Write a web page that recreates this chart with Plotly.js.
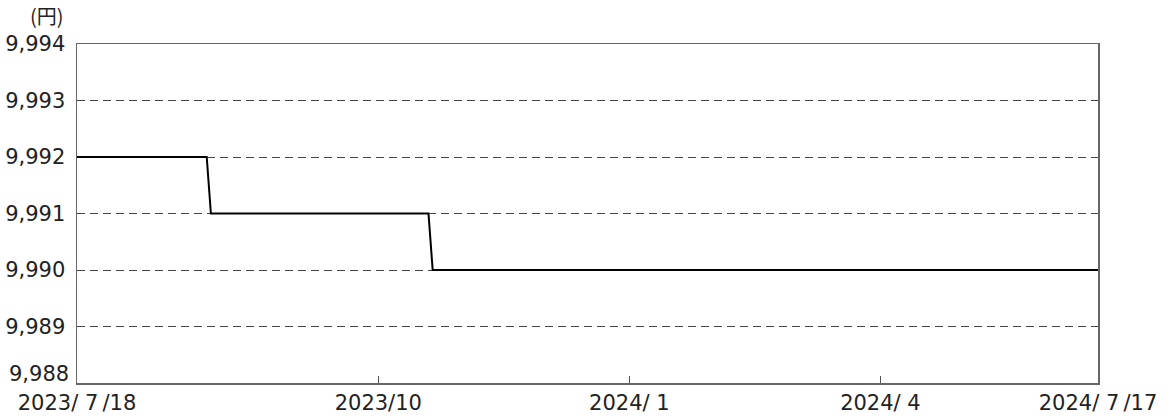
<!DOCTYPE html>
<html><head><meta charset="utf-8">
<script src="https://cdn.plot.ly/plotly-3.0.1.min.js"></script>
<style>html,body{margin:0;padding:0;background:#fff}</style>
</head><body><div id="chart" style="width:1171px;height:416px"></div>
<script>
// Trading-day index (x) and price in yen (y) at the step change points
const dayIndex = [0, 31, 32, 84, 85, 244];
const price    = [9992, 9992, 9991, 9991, 9990, 9990];
// Tick labels
const tickPositions = [0, 72, 132, 192, 244];
const tickLabels = ["2023/ 7\u2009/18", "2023/10", "2024/ 1", "2024/ 4", "2024/ 7\u2009/17"];
const yTicks = [9988, 9989, 9990, 9991, 9992, 9993, 9994];
const yUnit = "(円)";

const FONT = '"DejaVu Sans", "Noto Sans CJK JP", sans-serif';
const fmt = v => v.toLocaleString('en-US');
const yMain = yTicks.slice(1);
const yBottom = yTicks[0];

Plotly.newPlot('chart', [{
  x: dayIndex, y: price, type: 'scatter', mode: 'lines',
  line: {color: '#000', width: 2}, hoverinfo: 'skip'
}], {
  width: 1171, height: 416,
  margin: {l: 77, r: 73, t: 44, b: 33},
  paper_bgcolor: '#fff', plot_bgcolor: '#fff',
  showlegend: false,
  font: {family: FONT, size: 21, color: '#222'},
  xaxis: {
    range: [0, 244], tickvals: tickPositions, ticktext: tickLabels,
    ticks: 'inside', ticklen: 7, tickcolor: '#555', tickwidth: 1,
    showgrid: false, zeroline: false,
    showline: true, linecolor: '#666', linewidth: 1.5, mirror: true,
    tickfont: {family: FONT, size: 21, color: '#222'}, ticklabelstandoff: 0
  },
  yaxis: {
    range: [9988, 9994], tickvals: yMain, ticktext: yMain.map(fmt),
    ticks: '', showgrid: true, gridcolor: '#444', griddash: '8px,5px', gridwidth: 1,
    zeroline: false, showline: true, linecolor: '#666', linewidth: 1.5, mirror: true,
    tickfont: {family: FONT, size: 21, color: '#222'}, ticklabelstandoff: 6
  },
  annotations: [{
    text: yUnit, xref: 'paper', yref: 'paper', x: -0.0294, y: 1.0,
    xanchor: 'center', yanchor: 'middle', yshift: 29, showarrow: false,
    font: {family: '"Noto Sans CJK JP", sans-serif', size: 20, color: '#222'}
  }, {
    text: fmt(yBottom), xref: 'paper', yref: 'y', x: 0, y: yBottom,
    xanchor: 'right', yanchor: 'middle', xshift: -6, yshift: 9, showarrow: false,
    font: {family: FONT, size: 21, color: '#222'}
  }]
}, {displayModeBar: false, staticPlot: true});
</script></body></html>
